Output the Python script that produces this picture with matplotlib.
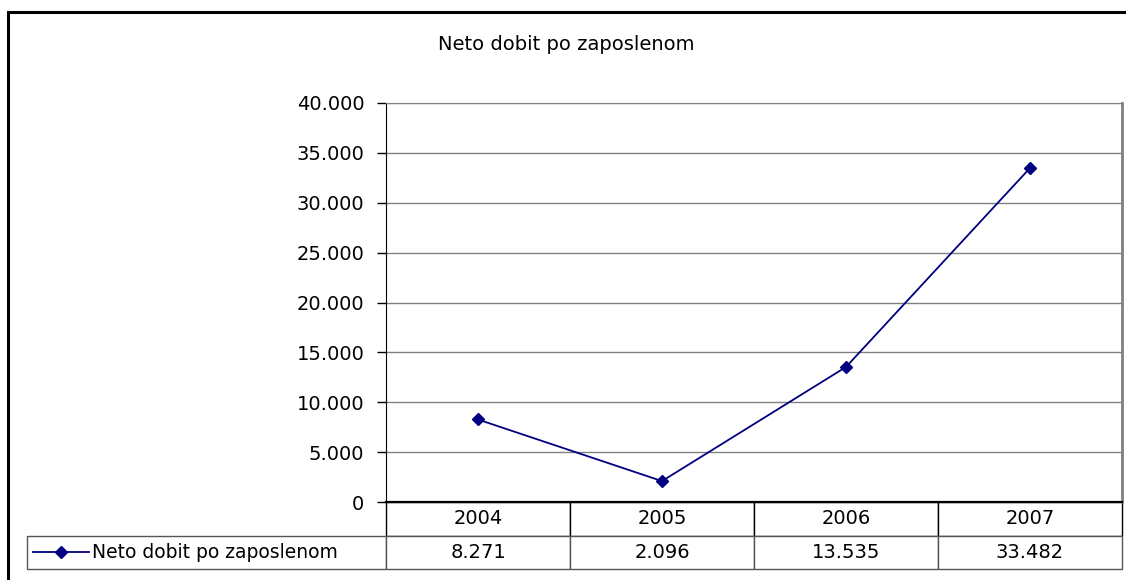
import matplotlib.pyplot as plt
import matplotlib.ticker as ticker
from matplotlib.patches import Rectangle

years = ['2004', '2005', '2006', '2007']
net_profit = [8271, 2096, 13535, 33482]
value_labels = ['8.271', '2.096', '13.535', '33.482']
series_name = 'Neto dobit po zaposlenom'
chart_title = 'Neto dobit po zaposlenom'

plt.rcParams['font.family'] = ['DejaVu Sans']

W, H = 1126, 580
fig = plt.figure(figsize=(W / 100, H / 100), dpi=100)

# outer chart frame (cut off at right and bottom)
fig.patches.append(Rectangle((8 / W, -0.2), 1.2, 1.2 - 12 / H, transform=fig.transFigure,
                             fill=False, edgecolor='black', linewidth=2.2))

ax_left, ax_right, ax_top, ax_bottom = 386, 1122, 103, 502
ax = fig.add_axes([ax_left / W, (H - ax_bottom) / H, (ax_right - ax_left) / W, (ax_bottom - ax_top) / H])

x = list(range(len(years)))
line, = ax.plot(x, net_profit, color='#000080', linewidth=1.3, marker='D', markersize=6,
                label=series_name)

ax.set_xlim(-0.5, len(years) - 0.5)
ax.set_ylim(0, 40000)
ax.yaxis.set_major_locator(ticker.MultipleLocator(5000))
ax.yaxis.set_major_formatter(ticker.FuncFormatter(lambda v, p: '{:,.0f}'.format(v).replace(',', '.')))
ax.set_xticks([])
ax.grid(axis='y', color='#808080', linewidth=1)
ax.set_axisbelow(True)
ax.tick_params(axis='y', length=6.5, width=1, pad=9, labelsize=14, colors='black')

ax.spines['left'].set_color('black')
ax.spines['bottom'].set_color('black')
ax.spines['bottom'].set_linewidth(1.6)
ax.spines['top'].set_color('#808080')
ax.spines['right'].set_color('#808080')
ax.spines['right'].set_linewidth(2)

fig.text(566 / W, 1 - 45 / H, chart_title, ha='center', va='center', fontsize=14)

# data table under the plot
tab_left, tab_bottom = 27, 569
ax_w = ax_right - ax_left
ax_h = ax_bottom - ax_top
bbox = [(tab_left - ax_left) / ax_w, -(tab_bottom - ax_bottom) / ax_h,
        (ax_right - tab_left) / ax_w, (tab_bottom - ax_bottom) / ax_h]
first_w = ax_left - tab_left
col_w = ax_w / len(years)
total_w = first_w + col_w * len(years)
table = ax.table(cellText=[[''] + years, [''] + value_labels],
                 colWidths=[first_w / total_w] + [col_w / total_w] * len(years),
                 cellLoc='center', bbox=bbox)
table.auto_set_font_size(False)
for (r, c), cell in table.get_celld().items():
    cell.set_fontsize(14)
    cell.set_linewidth(1)
    cell.set_edgecolor('black')
    if r == 0 and c == 0:
        cell.visible_edges = ''
    if r == 1:
        cell.set_edgecolor('#555555')

leg = ax.legend(handles=[line], loc='center left',
                bbox_to_anchor=((33 - ax_left) / ax_w, -(553 - ax_bottom) / ax_h),
                frameon=False, fontsize=13.5, handlelength=3.0, handletextpad=0.15,
                borderpad=0, borderaxespad=0)

fig.savefig('out.png', dpi=100)
